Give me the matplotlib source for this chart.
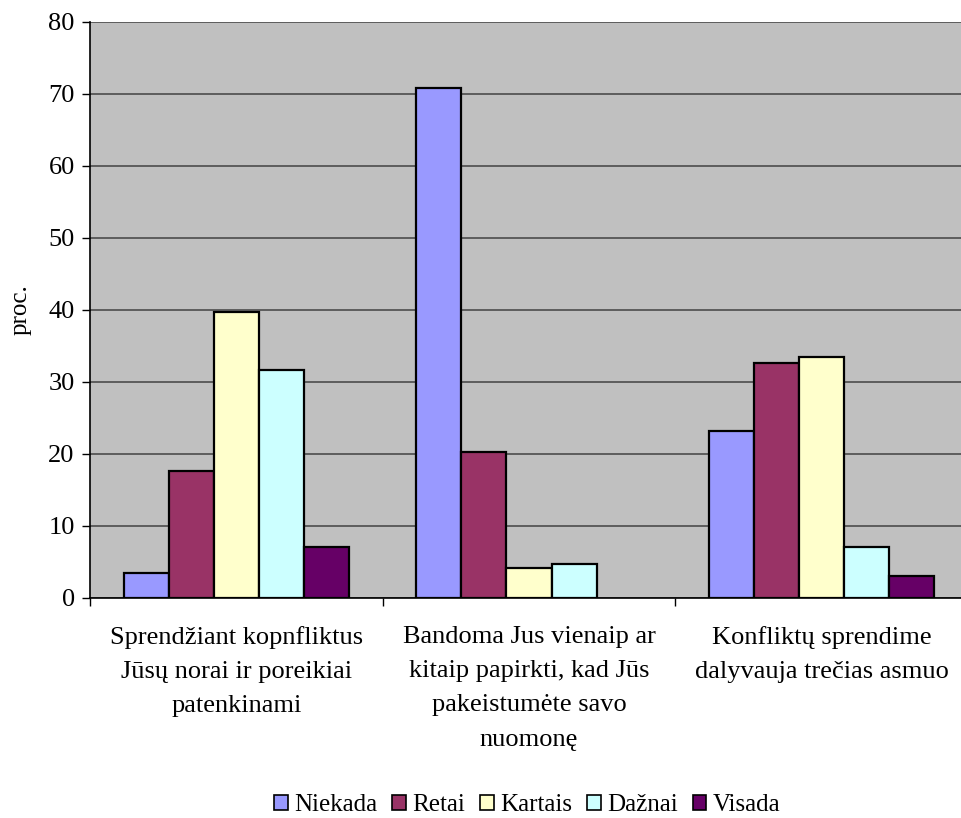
import numpy as np
import matplotlib
matplotlib.use("Agg")
import matplotlib.pyplot as plt
import matplotlib.transforms as mtransforms
from matplotlib.patches import Patch

plt.rcParams['font.family'] = ['Liberation Serif', 'DejaVu Serif']

categories = [
    "Sprendžiant kopnfliktus\nJūsų norai ir poreikiai\npatenkinami",
    "Bandoma Jus vienaip ar\nkitaip papirkti, kad Jūs\npakeistumėte savo\nnuomonę",
    "Konfliktų sprendime\ndalyvauja trečias asmuo",
]
series_names = ["Niekada", "Retai", "Kartais", "Dažnai", "Visada"]
niekada = [3.5, 70.9, 23.2]
retai = [17.7, 20.3, 32.6]
kartais = [39.7, 4.1, 33.5]
daznai = [31.6, 4.7, 7.1]
visada = [7.1, 0.0, 3.0]
y_ticks = [0, 10, 20, 30, 40, 50, 60, 70, 80]

colors = ["#9999FF", "#993366", "#FFFFCC", "#CCFFFF", "#660066"]
values = [niekada, retai, kartais, daznai, visada]

W, H = 961, 818
fig = plt.figure(figsize=(W / 100, H / 100), dpi=100)
ax = fig.add_axes([90 / W, 1 - 598 / H, (968 - 90) / W, (598 - 22) / H])
ax.set_facecolor("#C0C0C0")

n = len(series_names)
width = 1.0 / (n + 1.5)
x = np.arange(len(categories))
for i, (name, vals, col) in enumerate(zip(series_names, values, colors)):
    offs = (i - (n - 1) / 2) * width
    bars = ax.bar(x + offs, vals, width, color=col, edgecolor="black", linewidth=1.6,
                  label=name, zorder=3)
    for b, v in zip(bars, vals):
        if v == 0:
            b.set_visible(False)

ax.set_xlim(-0.5, len(categories) - 0.5)
ax.set_ylim(0, 80)
ax.set_yticks(y_ticks)
ax.set_yticklabels([str(t) for t in y_ticks], fontsize=19)
ax.yaxis.grid(True, color="#555555", linewidth=1.3, zorder=0)
ax.set_axisbelow(True)

# category boundary ticks; multi-line category names placed under each group
ax.set_xticks(np.arange(len(categories) + 1) - 0.5)
ax.set_xticklabels([])
ax.tick_params(axis="x", which="major", length=6, width=1, color="black")
ax.tick_params(axis="y", length=6, width=1, pad=5)

trans = mtransforms.blended_transform_factory(ax.transData, ax.transAxes)
for xi, name in zip(x, categories):
    ax.text(xi, -28 / 576, name, transform=trans, ha="center", va="top",
            fontsize=19, linespacing=1.72, multialignment="center")

for s in ["top", "right"]:
    ax.spines[s].set_visible(False)
ax.spines["left"].set_linewidth(1.2)
ax.spines["bottom"].set_linewidth(1.2)

ax.set_ylabel("proc.", fontsize=18, labelpad=12)

handles = [Patch(facecolor=c, edgecolor="black", linewidth=1.2) for c in colors]
fig.legend(handles, series_names, loc="center", bbox_to_anchor=(527 / W, 1 - 805 / H),
           ncol=5, frameon=False, fontsize=18, handlelength=0.55, handleheight=0.55,
           handletextpad=0.25, columnspacing=0.6)

fig.savefig("out.png", dpi=100)
